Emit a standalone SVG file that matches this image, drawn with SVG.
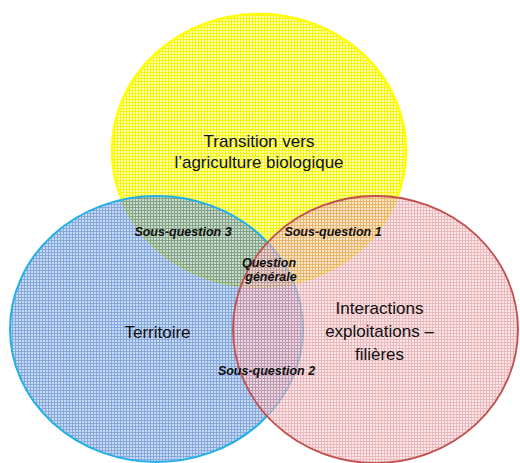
<svg xmlns="http://www.w3.org/2000/svg" width="520" height="463" viewBox="0 0 520 463">
  <defs>
    <pattern id="patY" x="0" y="0" width="3" height="3" patternUnits="userSpaceOnUse">
      <rect width="3" height="3" fill="#FFFFB0"/>
      <path d="M0 0.5H3M0.5 0V3" stroke="#F4F410" stroke-width="1"/>
    </pattern>
    <pattern id="patB" x="0" y="0" width="3" height="3" patternUnits="userSpaceOnUse">
      <rect width="3" height="3" fill="#A4C4EE"/>
      <path d="M0 0.5H3M0.5 0V3" stroke="#3E72C6" stroke-width="1"/>
    </pattern>
    <pattern id="patR" x="0" y="0" width="3" height="3" patternUnits="userSpaceOnUse">
      <rect width="3" height="3" fill="#F8DADA"/>
      <path d="M0 0.5H3M0.5 0V3" stroke="#E2909A" stroke-width="1"/>
    </pattern>
  </defs>
  <style>
    .main { font-family: "Liberation Sans", Arial, sans-serif; font-size: 17px; fill: #111111; text-anchor: middle; }
    .sub { font-family: "Liberation Sans", Arial, sans-serif; font-size: 12.5px; font-weight: bold; font-style: italic; fill: #111111; text-anchor: middle; }
  </style>
  <rect width="520" height="463" fill="#FFFFFF"/>
  <g id="transition">
    <ellipse cx="259" cy="150.5" rx="147" ry="136.5" fill="url(#patY)" stroke="#FFFF00" stroke-width="2.5"/>
    <text class="main" x="259" y="147">Transition vers</text>
    <text class="main" x="259" y="168">l’agriculture biologique</text>
  </g>
  <g id="territoire">
    <ellipse cx="156.5" cy="329" rx="146.5" ry="133" fill="url(#patB)" fill-opacity="0.62" stroke="#22B0E8" stroke-width="2"/>
    <text class="main" x="157.5" y="338">Territoire</text>
  </g>
  <g id="interactions">
    <ellipse cx="375.5" cy="329.5" rx="142.5" ry="133.5" fill="url(#patR)" fill-opacity="0.65" stroke="#C0504D" stroke-width="1.8"/>
    <text class="main" x="379.5" y="314">Interactions</text>
    <text class="main" x="379.5" y="337">exploitations –</text>
    <text class="main" x="379.5" y="360">filières</text>
  </g>
  <g id="sous-question-3">
    <text class="sub" x="183" y="236">Sous-question 3</text>
  </g>
  <g id="sous-question-1">
    <text class="sub" x="333" y="236">Sous-question 1</text>
  </g>
  <g id="question-generale">
    <text class="sub" x="269" y="266.5">Question</text>
    <text class="sub" x="271" y="281">générale</text>
  </g>
  <g id="sous-question-2">
    <text class="sub" x="266.5" y="375">Sous-question 2</text>
  </g>
</svg>
